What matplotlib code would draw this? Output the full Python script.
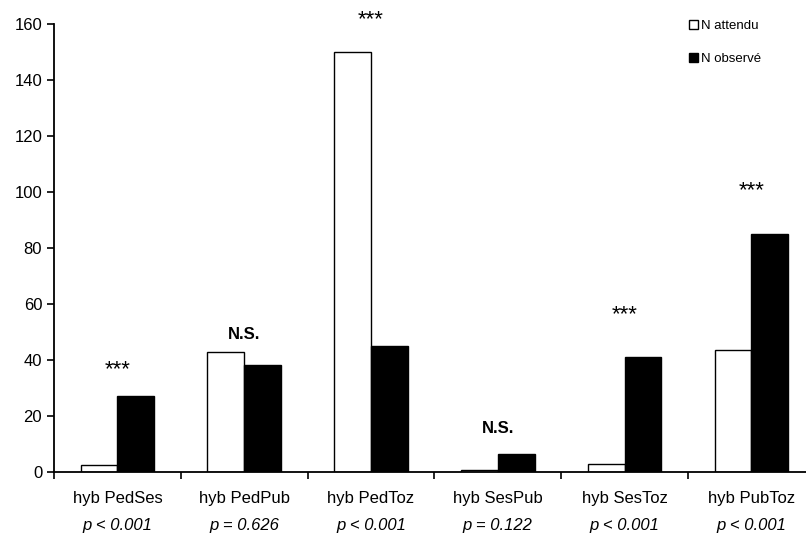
import matplotlib.pyplot as plt
import numpy as np
from matplotlib.patches import Patch

plt.rcParams['font.family'] = ['Liberation Sans', 'DejaVu Sans']

cats = ["hyb PedSes", "hyb PedPub", "hyb PedToz", "hyb SesPub", "hyb SesToz", "hyb PubToz"]
pvals = ["p < 0.001", "p = 0.626", "p < 0.001", "p = 0.122", "p < 0.001", "p < 0.001"]
attendu = [2.3, 42.7, 150, 0.5, 2.8, 43.6]
observe = [27, 38, 45, 6.2, 41, 85]
signif = ["***", "N.S.", "***", "N.S.", "***", "***"]
signif_y = [36.5, 49, 161.5, 15.5, 56, 100.5]

fig = plt.figure(figsize=(8.06, 5.36), dpi=100)
ax = fig.add_axes([0.067, 0.12, 0.944, 0.835])

x = np.arange(len(cats))
w = 0.29
ax.bar(x + 0.5 - w, attendu, w, align='edge', color='white', edgecolor='black', linewidth=1)
ax.bar(x + 0.5, observe, w, align='edge', color='black', edgecolor='black', linewidth=1)

ax.set_xlim(0, 6)
ax.set_ylim(0, 160)
ax.set_yticks(range(0, 161, 20))
ax.set_xticks(range(0, 7))
ax.set_xticklabels([])
ax.tick_params(axis='both', direction='out', length=5, width=1.2, labelsize=12, colors='black')
ax.spines['top'].set_visible(False)
ax.spines['right'].set_visible(False)
ax.spines['left'].set_linewidth(1.3)
ax.spines['bottom'].set_linewidth(1.3)

for i in range(len(cats)):
    ax.text(i + 0.5, -7, cats[i], ha='center', va='top', fontsize=12)
    ax.text(i + 0.5, -16.5, pvals[i], ha='center', va='top', fontsize=12, style='italic')
    if signif[i] == "N.S.":
        ax.text(i + 0.5, signif_y[i], signif[i], ha='center', va='center', fontsize=12,
                fontweight='bold', clip_on=False)
    else:
        ax.text(i + 0.5, signif_y[i], signif[i], ha='center', va='center', fontsize=16,
                clip_on=False)

handles = [Patch(facecolor='white', edgecolor='black', label='N attendu'),
           Patch(facecolor='black', edgecolor='black', label='N observé')]
fig.legend(handles=handles, loc='upper left', bbox_to_anchor=(0.84, 0.985), frameon=False,
           fontsize=9.5, handlelength=0.7, handleheight=0.7, handletextpad=0.25,
           labelspacing=1.6)

fig.savefig("out.png", dpi=100)
